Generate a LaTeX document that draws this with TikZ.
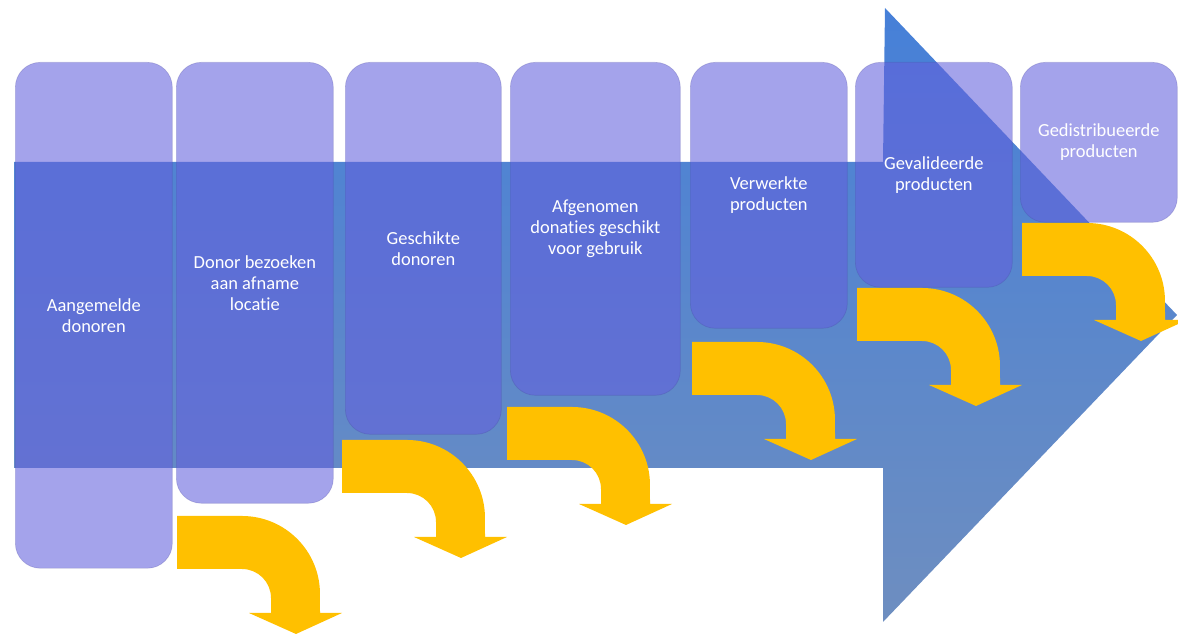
\documentclass[tikz,border=0pt]{standalone}
\usepackage{fontspec}
\setmainfont[Ligatures=NoCommon]{Carlito}
\usepackage{tikz}

\begin{document}
\begin{tikzpicture}[x=0.02cm,y=0.02cm]
%%%%%%%%%%%%%%%%%%%%%%%%%%%%%%%%%%%%%%%%%%%%%%%%%%%%%%%%%%%%%%
%colours
\definecolor{stagefill}{RGB}{99,96,220}
\definecolor{flowtop}{RGB}{70,128,216}
\definecolor{flowbot}{RGB}{110,142,192}
\definecolor{gold}{RGB}{255,192,0}
%styles
\tikzstyle{stage}=[rectangle,rounded corners=0.5cm,fill=stagefill,fill opacity=0.58,text opacity=1,draw=stagefill!70!black,draw opacity=0.25,thin,text=white,align=center,minimum width=3.14cm,inner sep=2pt,anchor=north west,font=\fontsize{10.5}{12}\selectfont]
\tikzset{bendarrow/.pic={
  \fill[gold] (0,0) -- (65,0) arc[start angle=90,end angle=0,radius=1.56cm] -- (143,-97) -- (165,-97)
    -- (119,-118) -- (72,-97) -- (94,-97) -- (94,-82) arc[start angle=0,end angle=90,radius=0.58cm]
    -- (0,-53) -- cycle;
}}
\useasboundingbox (0,0) rectangle (1178,634);
%big arrow
\shade[top color=flowtop,bottom color=flowbot] (14,472) -- (883,472) -- (885,626) -- (1177,319)
  -- (883,12) -- (883,166) -- (14,166) -- cycle;
%%%%%%%%%%%%%%%%%%%%%%%%%%%%%%%%%%%%%%%%%%%%%%%%%%%%%%%%%%%%%%
%nodes
\node[stage,minimum height=10.12cm] (aangemeld) at (15,572) {Aangemelde\\donoren};
\node[stage,minimum height=8.82cm] (bezoek) at (176,572) {Donor bezoeken\\aan afname\\locatie};
\node[stage,minimum height=7.44cm,minimum width=3.12cm] (geschikt) at (345,572) {Geschikte\\donoren};
\node[stage,minimum height=6.66cm,minimum width=3.4cm] (afgenomen) at (510,572) {Afgenomen\\donaties geschikt\\voor gebruik};
\node[stage,minimum height=5.32cm] (verwerkt) at (690,572) {Verwerkte\\producten};
\node[stage,minimum height=4.5cm] (gevalideerd) at (855,572) {Gevalideerde\\producten};
\node[stage,minimum height=3.2cm] (gedistribueerd) at (1020,572) {Gedistribueerde\\producten};
%%%%%%%%%%%%%%%%%%%%%%%%%%%%%%%%%%%%%%%%%%%%%%%%%%%%%%%%%%%%%%
%ARROWS
\pic at (177,118) {bendarrow};
\pic at (342,194) {bendarrow};
\pic at (507,227) {bendarrow};
\pic at (692,292) {bendarrow};
\pic at (857,346) {bendarrow};
\pic at (1022,411) {bendarrow};
\end{tikzpicture}
\end{document}
